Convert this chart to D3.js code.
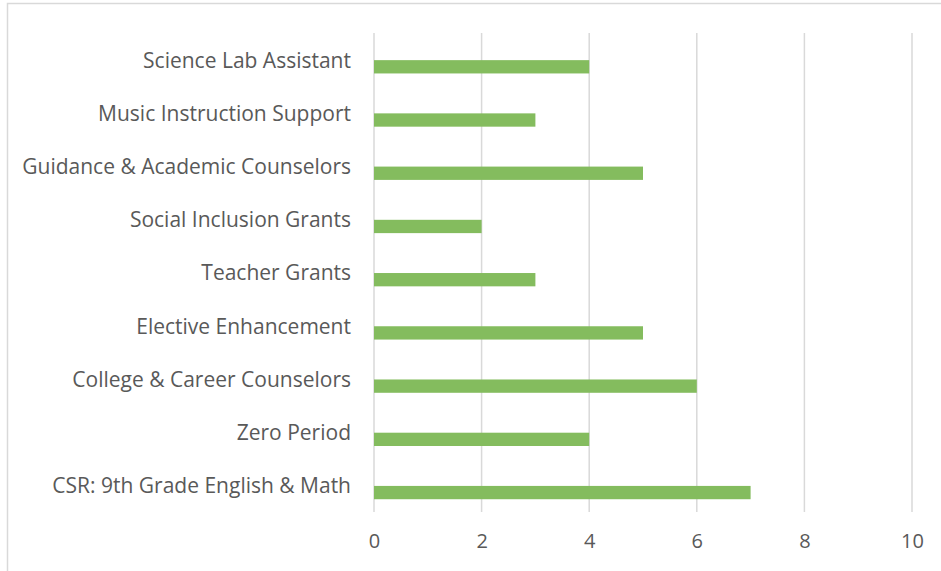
<!DOCTYPE html>
<html>
<head>
<meta charset="utf-8">
<script src="https://cdn.jsdelivr.net/npm/d3@7"></script>
<style>
  body { margin: 0; background: #fff; }
  text { font-family: "Open Sans", sans-serif; fill: #595959; }
</style>
</head>
<body>
<svg id="chart"></svg>
<script>
// categories top to bottom, as in the picture
var categories = [
    "Science Lab Assistant",
    "Music Instruction Support",
    "Guidance & Academic Counselors",
    "Social Inclusion Grants",
    "Teacher Grants",
    "Elective Enhancement",
    "College & Career Counselors",
    "Zero Period",
    "CSR: 9th Grade English & Math"
];
var values = [4, 3, 5, 2, 3, 5, 6, 4, 7];
var xTicks = [0, 2, 4, 6, 8, 10];

var W = 941, H = 571;
var margin = {top: 33, right: 29, bottom: 59, left: 374},
    width = W - margin.left - margin.right,
    height = H - margin.top - margin.bottom;

var root = d3.select("#chart")
    .attr("width", W)
    .attr("height", H);

// chart frame (runs off the right and bottom edges)
root.append("rect")
    .attr("x", 7.5).attr("y", 3.5)
    .attr("width", W).attr("height", H)
    .attr("fill", "none")
    .attr("stroke", "#d9d9d9")
    .attr("stroke-width", 1.5);

var svg = root.append("g")
    .attr("transform", "translate(" + margin.left + "," + margin.top + ")");

var x = d3.scaleLinear()
    .domain([0, 10])
    .range([0, width]);

var y = d3.scaleBand()
    .domain(categories)
    .range([0, height])
    .padding(0);

// gridlines
svg.selectAll(".grid")
    .data(xTicks)
    .enter().append("line")
    .attr("x1", function(d) { return x(d); })
    .attr("x2", function(d) { return x(d); })
    .attr("y1", 0)
    .attr("y2", height)
    .attr("stroke", "#d9d9d9")
    .attr("stroke-width", 1.5);

// bars sit in the lower part of each band
svg.selectAll(".bar")
    .data(categories)
    .enter().append("rect")
    .attr("class", "bar")
    .attr("x", x(0))
    .attr("y", function(d) { return y(d) + y.bandwidth() * 0.51; })
    .attr("width", function(d, i) { return x(values[i]) - x(0); })
    .attr("height", y.bandwidth() * 0.25)
    .attr("fill", "#84bc5e");

// category labels
var yAxis = svg.append("g")
    .call(d3.axisLeft(y).tickSize(0).tickPadding(23));
yAxis.select(".domain").remove();
yAxis.selectAll("text")
    .style("font-family", "'Open Sans', sans-serif")
    .style("font-size", "21px")
    .attr("dy", "0.38em")
    .attr("fill", "#595959");

// x tick labels
var xAxis = svg.append("g")
    .attr("transform", "translate(0," + height + ")")
    .call(d3.axisBottom(x).tickValues(xTicks).tickSize(0).tickPadding(22));
xAxis.select(".domain").remove();
xAxis.selectAll("text")
    .style("font-family", "'Open Sans', sans-serif")
    .style("font-size", "20px")
    .attr("fill", "#595959");
</script>
</body>
</html>
